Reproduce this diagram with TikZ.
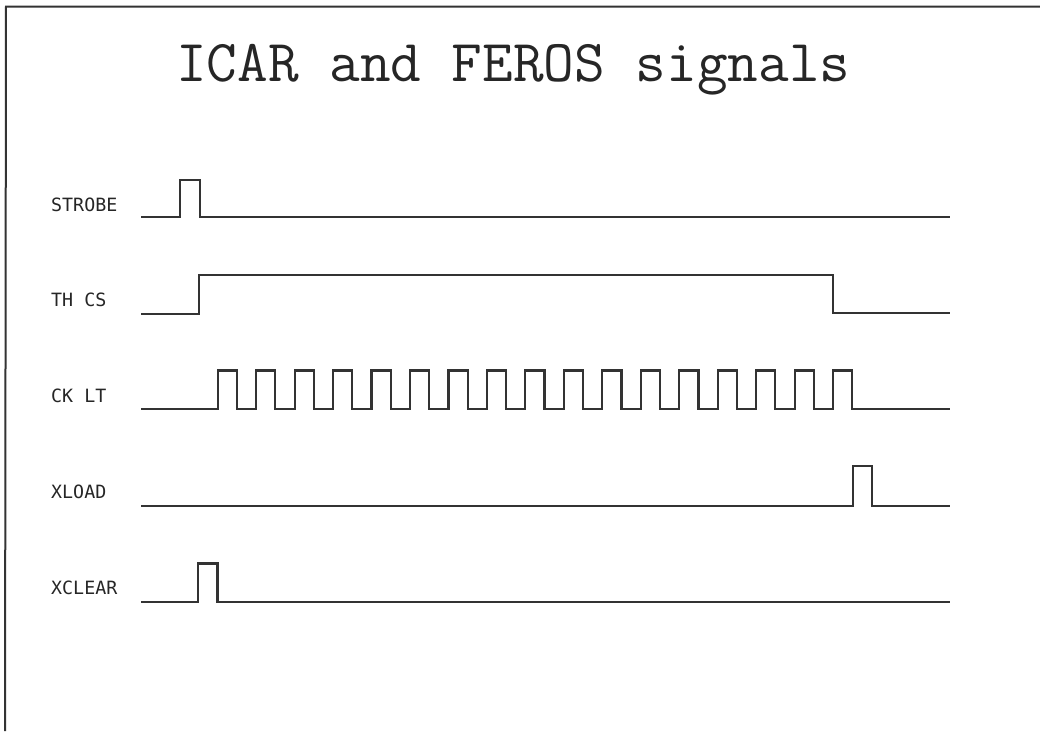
\documentclass[tikz,border=0pt]{standalone}
\usepackage{fontspec}
\newfontfamily\labfont{DejaVu Sans Mono}
\begin{document}
\begin{tikzpicture}[x=1pt,y=-1pt,
  wave/.style={line width=2.2pt,color=black!80,line join=miter},
  frame/.style={line width=2pt,color=black!80},
  siglabel/.style={anchor=west,inner sep=0pt,font=\labfont\fontsize{18.3}{18.3}\selectfont,text=black!85},
  titlestyle/.style={anchor=west,inner sep=0pt,font=\ttfamily\fontsize{59.5}{59.5}\selectfont,text=black!85}]
\useasboundingbox (0,0) rectangle (1040,731);
\coordinate (tl) at (6,6.5);
\coordinate (tr) at (1040,6.5);
\coordinate (bl) at (5,731);
\draw[frame] (tr) -- (tl) -- (bl);
\node[titlestyle] (title) at (176,70) {ICAR and FEROS signals};
% labels
\node[siglabel] (lstrobe) at (51,205) {STROBE};
\node[siglabel] (lthcs) at (51,300) {TH CS};
\node[siglabel] (lcklt) at (51,396) {CK LT};
\node[siglabel] (lxload) at (51,492) {XLOAD};
\node[siglabel] (lxclear) at (51,588) {XCLEAR};
% STROBE
\draw[wave] (141,217) -- (180,217) -- (180,180) -- (200,180) -- (200,217) -- (950,217);
% TH CS
\draw[wave] (141,314) -- (199,314) -- (199,275) -- (833,275) -- (833,313) -- (950,313);
% CK LT
\draw[wave] (141,409)
  foreach \k in {0,...,16} {
    -- ({217.7+38.46*\k},409) -- ({217.7+38.46*\k},370.5)
    -- ({236.9+38.46*\k},370.5) -- ({236.9+38.46*\k},409)
  } -- (950,409);
% XLOAD
\draw[wave] (141,506) -- (853,506) -- (853,466) -- (872,466) -- (872,506) -- (950,506);
% XCLEAR
\draw[wave] (141,602) -- (198,602) -- (198,563.5) -- (217.5,563.5) -- (217.5,602) -- (950,602);
\end{tikzpicture}
\end{document}
